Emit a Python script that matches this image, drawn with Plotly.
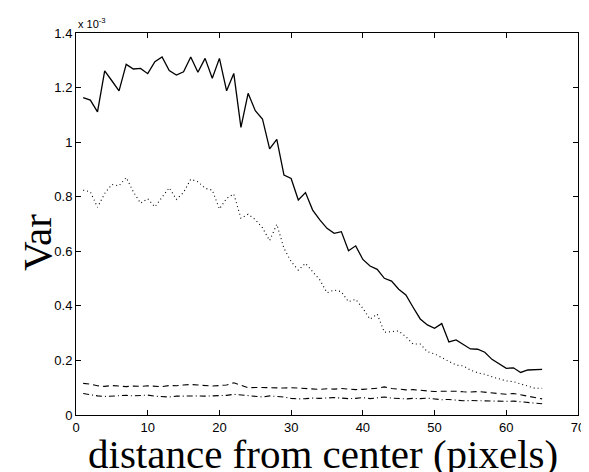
import plotly.graph_objects as go

distance = list(range(1, 66))

var_solid = [1.163, 1.154, 1.111, 1.261, 1.225, 1.188, 1.285, 1.268, 1.270, 1.251,
             1.295, 1.312, 1.262, 1.246, 1.258, 1.312, 1.256, 1.307, 1.234, 1.307,
             1.188, 1.252, 1.054, 1.179, 1.115, 1.085, 0.975, 1.010, 0.879, 0.867,
             0.788, 0.815, 0.751, 0.715, 0.684, 0.666, 0.672, 0.602, 0.620, 0.570,
             0.546, 0.534, 0.501, 0.491, 0.461, 0.440, 0.395, 0.352, 0.330, 0.318,
             0.335, 0.268, 0.275, 0.259, 0.242, 0.241, 0.230, 0.204, 0.189, 0.171,
             0.173, 0.156, 0.165, 0.165, 0.167]

var_dotted = [0.824, 0.818, 0.761, 0.812, 0.845, 0.840, 0.870, 0.818, 0.776, 0.793,
              0.763, 0.796, 0.833, 0.790, 0.816, 0.864, 0.855, 0.831, 0.824, 0.755,
              0.794, 0.810, 0.721, 0.736, 0.716, 0.686, 0.639, 0.699, 0.611, 0.562,
              0.531, 0.556, 0.525, 0.495, 0.448, 0.458, 0.452, 0.415, 0.424, 0.391,
              0.351, 0.370, 0.303, 0.305, 0.308, 0.287, 0.260, 0.260, 0.232, 0.224,
              0.211, 0.195, 0.183, 0.180, 0.165, 0.155, 0.149, 0.140, 0.132, 0.125,
              0.122, 0.114, 0.106, 0.098, 0.098]

var_dashed = [0.116, 0.113, 0.107, 0.105, 0.108, 0.106, 0.104, 0.106, 0.105, 0.107,
              0.106, 0.104, 0.108, 0.107, 0.110, 0.112, 0.110, 0.108, 0.106, 0.108,
              0.110, 0.118, 0.108, 0.100, 0.101, 0.100, 0.101, 0.098, 0.099, 0.100,
              0.098, 0.097, 0.095, 0.094, 0.096, 0.095, 0.097, 0.094, 0.093, 0.094,
              0.095, 0.098, 0.103, 0.097, 0.095, 0.092, 0.093, 0.090, 0.088, 0.086,
              0.087, 0.088, 0.087, 0.085, 0.084, 0.086, 0.083, 0.080, 0.078, 0.076,
              0.079, 0.074, 0.070, 0.064, 0.059]

var_dashdot = [0.079, 0.074, 0.070, 0.068, 0.069, 0.070, 0.072, 0.070, 0.071, 0.073,
               0.069, 0.067, 0.066, 0.069, 0.070, 0.071, 0.070, 0.069, 0.070, 0.071,
               0.072, 0.076, 0.073, 0.070, 0.067, 0.066, 0.070, 0.068, 0.066, 0.061,
               0.059, 0.060, 0.062, 0.061, 0.063, 0.064, 0.062, 0.060, 0.061, 0.064,
               0.060, 0.063, 0.066, 0.062, 0.060, 0.059, 0.061, 0.060, 0.062, 0.058,
               0.056, 0.057, 0.055, 0.052, 0.053, 0.052, 0.051, 0.050, 0.051, 0.050,
               0.051, 0.049, 0.047, 0.044, 0.041]

x_ticks = [0, 10, 20, 30, 40, 50, 60, 70]
y_ticks = [0, 0.2, 0.4, 0.6, 0.8, 1, 1.2, 1.4]
y_tick_text = ["0", "0.2", "0.4", "0.6", "0.8", "1", "1.2", "1.4"]
x_title = "distance from center (pixels)"
y_title = "Var"
scale_label = "x 10<sup>-3</sup>"

fig = go.Figure()
styles = [(var_solid, "solid", 1.3), (var_dotted, "1px,3px", 1.1),
          (var_dashed, "6px,4px", 1.1), (var_dashdot, "6px,3px,1px,3px", 1.1)]
for ys, dash, w in styles:
    fig.add_trace(go.Scatter(x=distance, y=ys, mode="lines",
                             line=dict(color="black", width=w, dash=dash),
                             showlegend=False))

axis_common = dict(showgrid=False, zeroline=False, showline=True, linecolor="black",
                   linewidth=1, mirror="ticks", ticks="inside", ticklen=5,
                   tickcolor="black", automargin=False,
                   tickfont=dict(family="Liberation Sans, Arial", size=13, color="black"))

serif = "Liberation Serif, Times New Roman, serif"

# the page body has an 8px margin, so the figure is shrunk by that much
fig.update_layout(
    width=581, height=464,
    margin=dict(l=68, r=11, t=25, b=57),
    paper_bgcolor="white", plot_bgcolor="white",
    xaxis=dict(range=[0, 70], tickvals=x_ticks, ticklabelstandoff=0, **axis_common),
    yaxis=dict(range=[0, 1.4], tickvals=y_ticks, ticktext=y_tick_text, **axis_common),
    annotations=[
        dict(text=scale_label, xref="paper", yref="paper", x=0.0, y=1.0,
             xanchor="left", yanchor="bottom", showarrow=False, yshift=1,
             font=dict(family="Liberation Sans, Arial", size=11, color="black")),
        dict(text=x_title, xref="paper", yref="paper", x=0.492, y=-0.102,
             xanchor="center", yanchor="middle", showarrow=False,
             font=dict(family=serif, size=41, color="black")),
        dict(text=y_title, xref="paper", yref="paper", x=-0.0777, y=0.453,
             xanchor="center", yanchor="middle", showarrow=False, textangle=-90,
             font=dict(family=serif, size=41, color="black")),
    ],
)

fig.write_html("out.html")
